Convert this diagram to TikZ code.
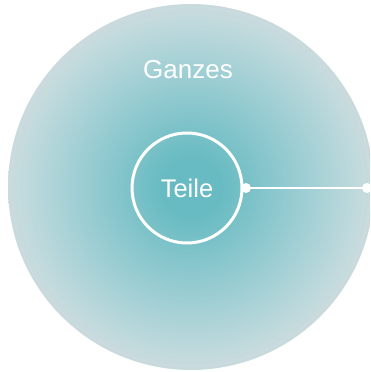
\documentclass[tikz,border=0pt]{standalone}
\usepackage{fontspec}
\setmainfont{Liberation Sans}
\definecolor{tc}{HTML}{68BBC2}
\definecolor{tm}{HTML}{A0CFD4}
\definecolor{te}{HTML}{D5E0E2}
\definecolor{rimgrey}{HTML}{C9D3D5}
\pgfdeclareradialshading{ganz}{\pgfpoint{0bp}{0bp}}{color(0bp)=(tc); color(4bp)=(tc); color(16bp)=(tm); color(27bp)=(te); color(50bp)=(te)}
\tikzset{
  wholecircle/.style={circle, minimum size=366pt, inner sep=0pt, shading=ganz},
  partcircle/.style={circle, draw=white, line width=3pt, minimum size=110pt, inner sep=0pt, text=white, font=\fontsize{25.5}{30}\selectfont},
  labeltext/.style={text=white, font=\fontsize{26}{30}\selectfont},
  link/.style={draw=white, line width=2.5pt},
  dot/.style={fill=white}
}
\begin{document}
\begin{tikzpicture}[x=1pt,y=1pt]
\useasboundingbox (0,0) rectangle (370,372);
\begin{scope}
\clip (0,0) rectangle (370,372);
\node[wholecircle] (whole) at (191,185) {};
\draw[rimgrey, line width=1.5pt, opacity=0.4] (whole.center) circle (181.5pt);
\draw[rimgrey, line width=4pt, opacity=0.15] (whole.center) circle (177pt);
\node[labeltext] (ganzes) at (188,302) {Ganzes};
\node[partcircle] (teile) at (187,184) {Teile};
\coordinate (rim) at (367,184);
\coordinate (start) at ([xshift=2.5pt]teile.east);
\draw[link] (start) -- (rim);
\fill[dot] (start) circle (5pt);
\fill[dot] (rim) circle (5pt);
\end{scope}
\end{tikzpicture}
\end{document}
